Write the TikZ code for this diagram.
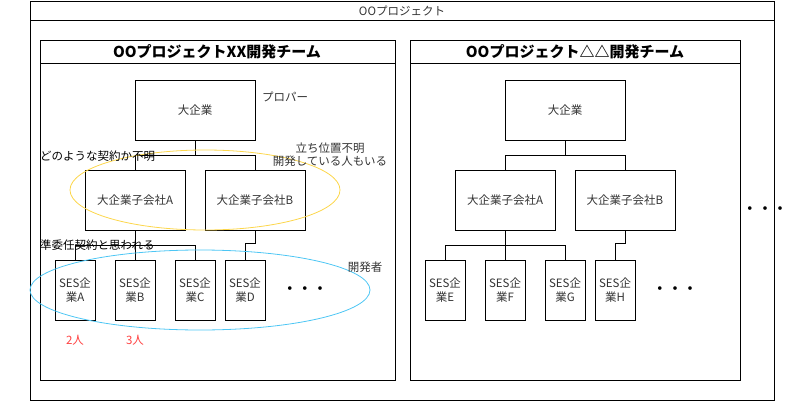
\documentclass[tikz,border=0pt]{standalone}
\usepackage{fontspec}
\setmainfont{Noto Sans CJK JP}
\begin{document}
\begin{tikzpicture}[x=1pt,y=-1pt,
  box/.style={draw,thick,rectangle,font=\fontsize{11.5}{14}\selectfont,text=black!80,align=center,inner sep=0pt},
  lbl/.style={font=\fontsize{11.5}{13}\selectfont,text=black!80,align=center,inner sep=0pt},
  hdr/.style={font=\bfseries\fontsize{15}{17}\selectfont,inner sep=0pt},
  dots/.style={font=\bfseries\fontsize{13}{13}\selectfont,inner sep=0pt},
  ln/.style={thick}]
\useasboundingbox (0,0) rectangle (791,401);
\draw[thick] (30,1) rectangle (774,400);
\draw[thick] (30,20) -- (774,20);
\node[lbl] (tt) at (402,11) {OOプロジェクト};
% left team
\draw[thick] (40,40) rectangle (395,380);
\draw[thick] (40,63) -- (395,63);
\node[hdr] (lh) at (217,52) {OOプロジェクトXX開発チーム};
\node[box,minimum width=120,minimum height=60] (L0) at (195,110) {大企業};
\node[box,minimum width=100,minimum height=60] (LA) at (135,200) {大企業子会社A};
\node[box,minimum width=100,minimum height=60] (LB) at (255,200) {大企業子会社B};
\node[box,minimum width=40,minimum height=60] (SA) at (75,290) {SES企\\業A};
\node[box,minimum width=40,minimum height=60] (SB) at (135,290) {SES企\\業B};
\node[box,minimum width=40,minimum height=60] (SC) at (195,290) {SES企\\業C};
\node[box,minimum width=40,minimum height=60] (SD) at (245,290) {SES企\\業D};
\node[dots] (ld) at (305,290) {・\,・\,・};
\draw[ln] (L0.south) -- (195,155) -| (LA.north);
\draw[ln] (195,155) -| (LB.north);
\draw[ln] (LA.south) -- (135,245) -| (SA.north);
\draw[ln] (135,245) -- (SB.north);
\draw[ln] (135,245) -| (SC.north);
\draw[ln] (LB.south) -- (255,243) -| (SD.north);
\draw[yellow!60!orange!70,thick] (205,190) ellipse (135 and 40);
\draw[cyan!70!white,thick] (200,290) ellipse (170 and 40);
\node[lbl,anchor=west] (pp) at (262,97) {プロパー};
\node[lbl,anchor=west,text=black] (q1) at (40,156) {どのような契約か不明};
\node[lbl] (q2) at (330,155) {立ち位置不明\\開発している人もいる};
\node[lbl] (dv) at (365,267) {開発者};
\node[lbl,text=red!75] (n2) at (75,340) {2人};
\node[lbl,text=red!75] (n3) at (135,340) {3人};
\node[lbl,anchor=west,text=black] (q3) at (40,245) {準委任契約と思われる};
% right team
\draw[thick] (410,40) rectangle (740,380);
\draw[thick] (410,63) -- (740,63);
\node[hdr] (rh) at (575,52) {OOプロジェクト△△開発チーム};
\node[box,minimum width=120,minimum height=60] (R0) at (565,110) {大企業};
\node[box,minimum width=100,minimum height=60] (RA) at (505,200) {大企業子会社A};
\node[box,minimum width=100,minimum height=60] (RB) at (625,200) {大企業子会社B};
\node[box,minimum width=40,minimum height=60] (SE) at (445,290) {SES企\\業E};
\node[box,minimum width=40,minimum height=60] (SF) at (505,290) {SES企\\業F};
\node[box,minimum width=40,minimum height=60] (SG) at (565,290) {SES企\\業G};
\node[box,minimum width=40,minimum height=60] (SH) at (615,290) {SES企\\業H};
\node[dots] (rd) at (675,290) {・\,・\,・};
\draw[ln] (R0.south) -- (565,155) -| (RA.north);
\draw[ln] (565,155) -| (RB.north);
\draw[ln] (RA.south) -- (505,245) -| (SE.north);
\draw[ln] (505,245) -- (SF.north);
\draw[ln] (505,245) -| (SG.north);
\draw[ln] (RB.south) -- (625,243) -| (SH.north);
\node[dots] (od) at (765,210) {・\,・\,・};
\end{tikzpicture}
\end{document}
